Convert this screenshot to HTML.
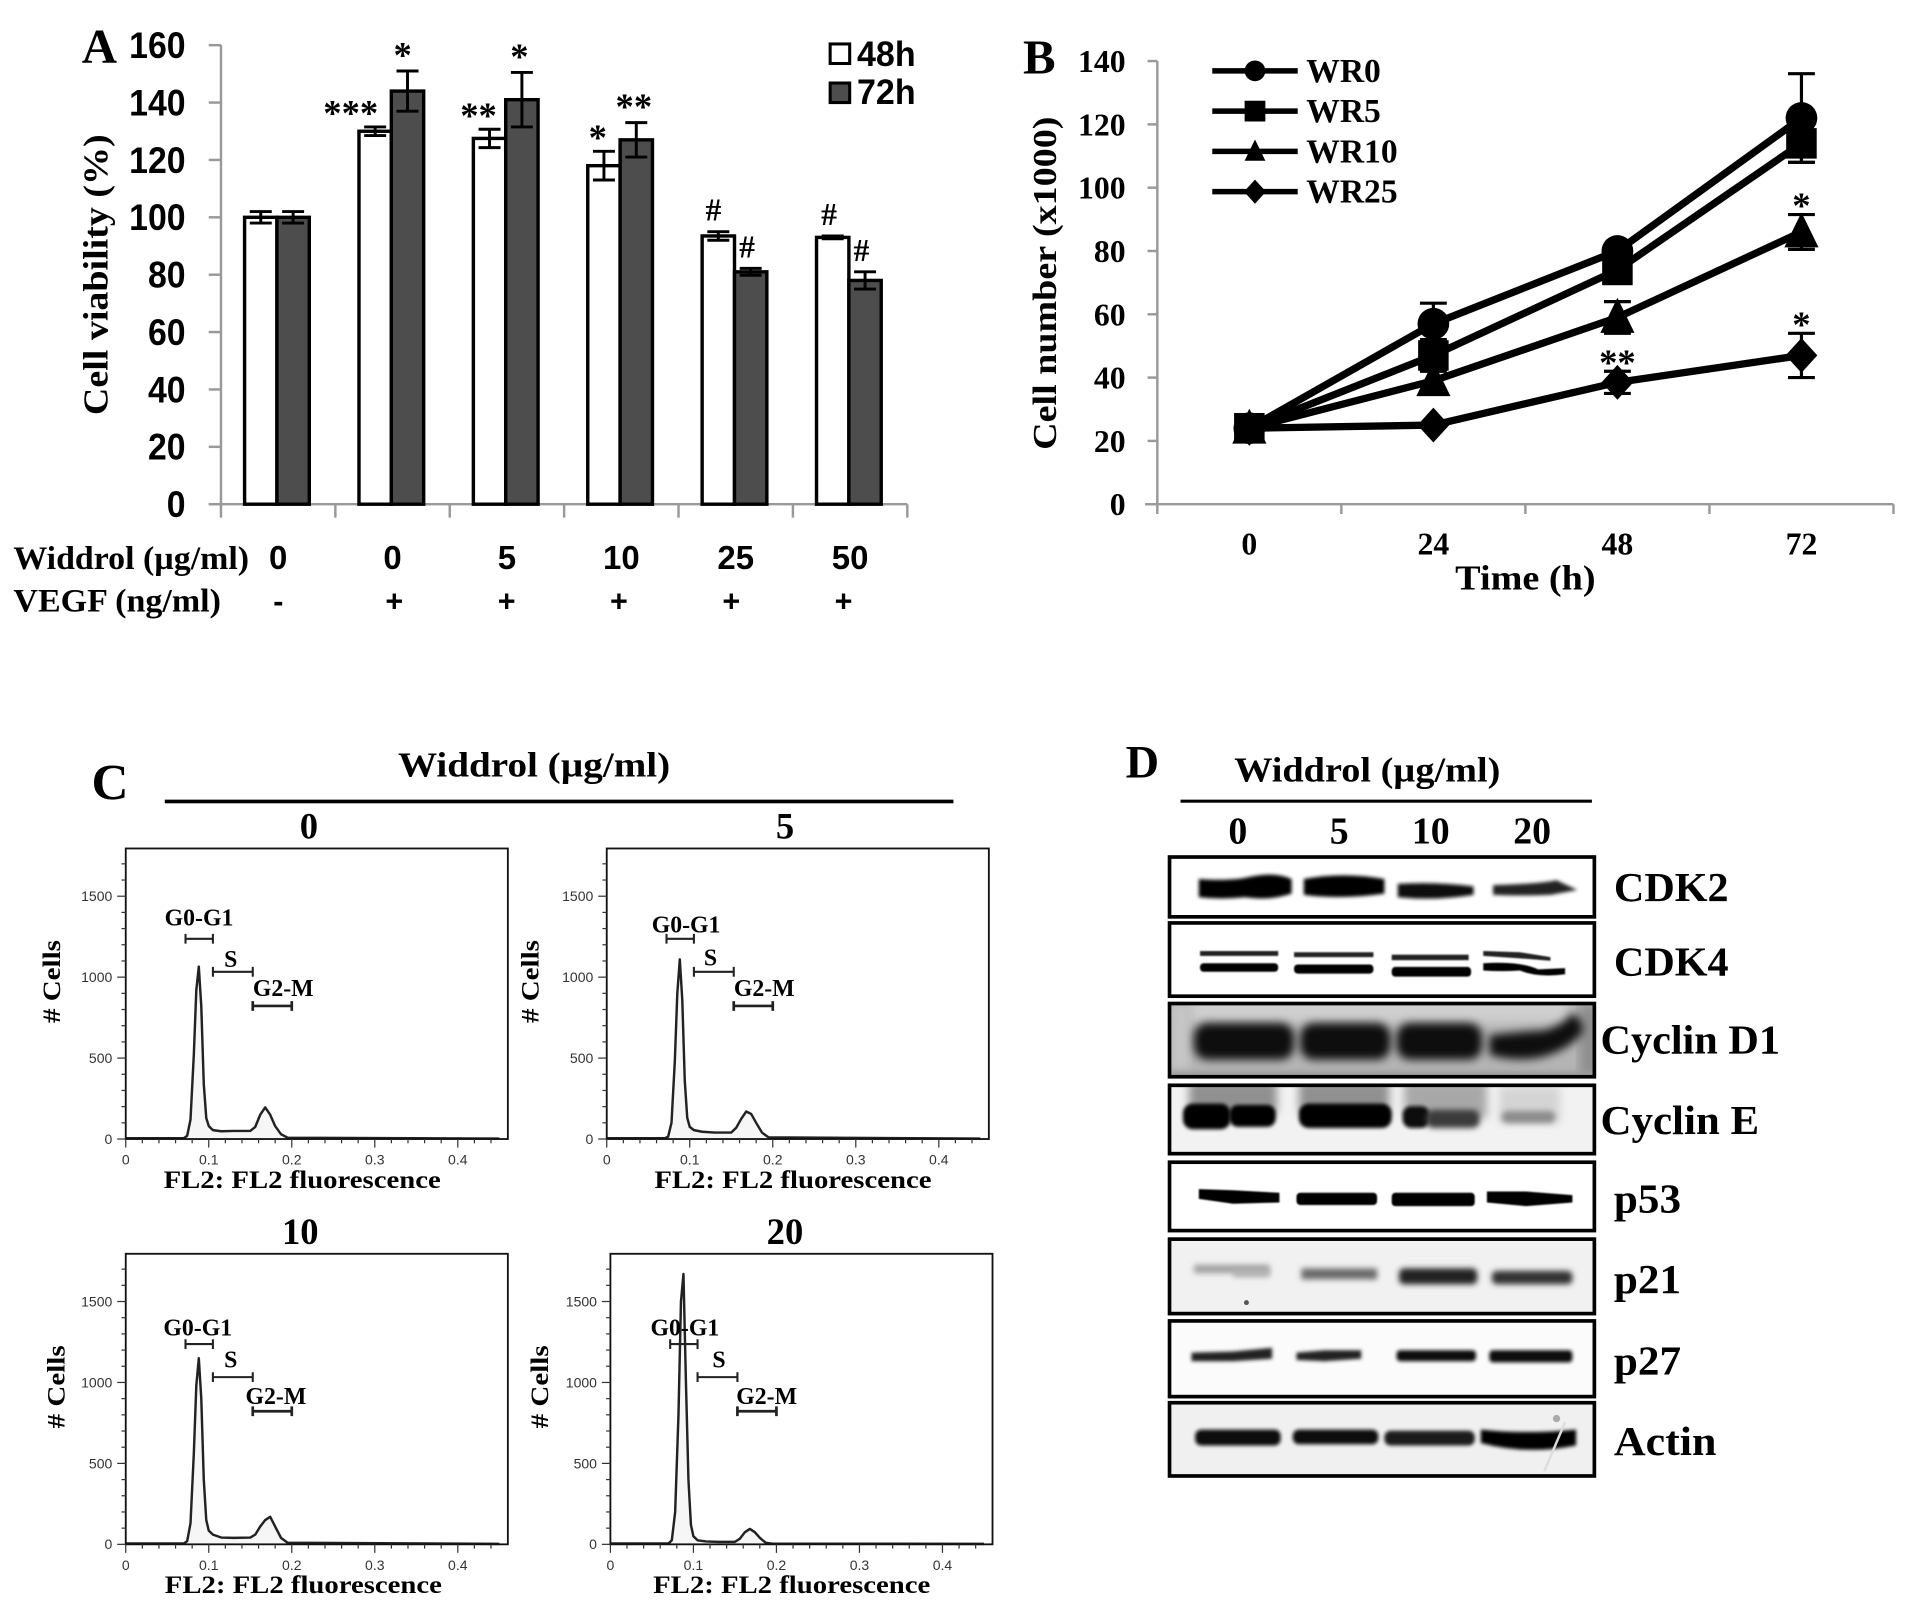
<!DOCTYPE html>
<html lang="en">
<head>
<meta charset="utf-8">
<title>Widdrol figure</title>
<style>
html,body{margin:0;padding:0;background:#fff;}
svg{display:block;}
.sb{font-family:"Liberation Sans",sans-serif;font-weight:700;fill:#000;}
.se{font-family:"Liberation Serif",serif;font-weight:700;fill:#000;}
.tk{font-family:"Liberation Sans",sans-serif;font-size:11.5px;fill:#333;}
</style>
</head>
<body>
<svg id="figure" xmlns="http://www.w3.org/2000/svg" width="1913" height="1606" viewBox="0 0 1567 1315.5">
<defs>
<filter id="b05" x="-10%" y="-100%" width="120%" height="300%"><feGaussianBlur stdDeviation="0.7"/></filter>
<filter id="b1" x="-10%" y="-200%" width="120%" height="500%"><feGaussianBlur stdDeviation="1.5"/></filter>
<filter id="b2" x="-10%" y="-200%" width="120%" height="500%"><feGaussianBlur stdDeviation="2.4"/></filter>
<filter id="b3" x="-20%" y="-100%" width="140%" height="300%"><feGaussianBlur stdDeviation="3.6"/></filter>
<filter id="b4" x="-20%" y="-200%" width="140%" height="500%"><feGaussianBlur stdDeviation="4.5"/></filter>
<clipPath id="clip-d1"><rect x="958" y="822" width="348" height="60"/></clipPath>
<clipPath id="clip-e"><rect x="958" y="889" width="348" height="56"/></clipPath>
</defs>

<g id="chart-a">
  <text class="se" x="67" y="51" font-size="40">A</text>
  <text class="se" transform="translate(88,225) rotate(-90)" text-anchor="middle" font-size="29" textLength="230" lengthAdjust="spacingAndGlyphs">Cell viability (%)</text>
  <text class="se" x="11" y="466" font-size="27" textLength="193" lengthAdjust="spacingAndGlyphs">Widdrol (µg/ml)</text>
  <text class="se" x="11" y="501" font-size="27" textLength="170" lengthAdjust="spacingAndGlyphs">VEGF (ng/ml)</text>
  <rect x="680" y="36" width="16" height="16" fill="#fff" stroke="#000" stroke-width="2.5"/>
  <text class="sb" x="702" y="54" font-size="29" textLength="48" lengthAdjust="spacingAndGlyphs">48h</text>
  <rect x="680" y="68" width="16" height="16" fill="#4d4d4d" stroke="#000" stroke-width="2.5"/>
  <text class="sb" x="702" y="85" font-size="29" textLength="48" lengthAdjust="spacingAndGlyphs">72h</text>
</g>

<g id="chart-b">
  <text class="se" x="838" y="60" font-size="40">B</text>
  <text class="se" transform="translate(865,232) rotate(-90)" text-anchor="middle" font-size="28" textLength="273" lengthAdjust="spacingAndGlyphs">Cell number (x1000)</text>
  <text class="se" x="1249.5" y="483" text-anchor="middle" font-size="29" textLength="115" lengthAdjust="spacingAndGlyphs">Time (h)</text>
</g>

<g id="chart-c">
  <text class="se" x="75" y="655" font-size="42">C</text>
  <text class="se" x="437.5" y="636" text-anchor="middle" font-size="29" textLength="223" lengthAdjust="spacingAndGlyphs">Widdrol (µg/ml)</text>
  <rect x="135" y="655" width="646" height="3" fill="#000"/>
</g>

<g id="chart-d">
  <text class="se" x="922" y="637" font-size="38">D</text>
  <text class="se" x="1120" y="640" text-anchor="middle" font-size="29" textLength="218" lengthAdjust="spacingAndGlyphs">Widdrol (µg/ml)</text>
  <rect x="967" y="655" width="337" height="2.5" fill="#000"/>
  <text class="se" x="1014" y="691" text-anchor="middle" font-size="31">0</text>
  <text class="se" x="1097" y="691" text-anchor="middle" font-size="31">5</text>
  <text class="se" x="1172" y="691" text-anchor="middle" font-size="31">10</text>
  <text class="se" x="1255" y="691" text-anchor="middle" font-size="31">20</text>

  <g>
    <rect x="958" y="702" width="348" height="49" fill="#fff"/>
    <path d="M982 720Q1010 722 1025 718Q1045 714 1058 720L1058 732Q1040 738 1020 735Q1000 737 982 735Z" fill="#000" filter="url(#b1)"/>
    <path d="M1068 720Q1100 714 1134 720L1134 732Q1100 737 1068 733Z" fill="#000" filter="url(#b1)"/>
    <path d="M1145 724Q1175 722 1207 726L1207 733Q1175 738 1145 735Z" fill="#111" filter="url(#b1)"/>
    <path d="M1223 725Q1260 724 1275 721L1292 729L1270 733Q1245 734 1223 733Z" fill="#222" filter="url(#b1)"/>
    <rect x="958" y="702" width="348" height="49" fill="none" stroke="#000" stroke-width="3"/>
  </g>
  <g>
    <rect x="958" y="756" width="348" height="60" fill="#fff"/>
    <rect x="983" y="779" width="64" height="4" fill="#222" filter="url(#b05)"/>
    <rect x="983" y="789" width="64" height="7" rx="3" fill="#000" filter="url(#b05)"/>
    <rect x="1060" y="780" width="65" height="4" fill="#222" filter="url(#b05)"/>
    <rect x="1060" y="790" width="65" height="7.5" rx="3" fill="#000" filter="url(#b05)"/>
    <rect x="1140" y="782" width="63" height="4.5" fill="#222" filter="url(#b05)"/>
    <rect x="1140" y="792" width="65" height="8" rx="3" fill="#000" filter="url(#b05)"/>
    <path d="M1215 779L1245 780L1270 784L1270 787L1245 785L1215 783Z" fill="#222" filter="url(#b05)"/>
    <path d="M1215 789Q1245 787 1260 794L1282 793L1282 798Q1260 801 1245 795Q1230 796 1215 795Z" fill="#000" filter="url(#b05)"/>
    <rect x="958" y="756" width="348" height="60" fill="none" stroke="#000" stroke-width="3"/>
  </g>
  <g>
    <g clip-path="url(#clip-d1)">
      <rect x="958" y="822" width="348" height="60" fill="#b4b4b4"/>
      <rect x="975" y="818" width="310" height="20" fill="#cfcfcf" filter="url(#b4)"/>
      <rect x="960" y="822" width="14" height="54" fill="#c8c8c8" filter="url(#b4)"/>
      <rect x="1294" y="822" width="16" height="60" fill="#8c8c8c" filter="url(#b4)"/>
      <rect x="958" y="878" width="348" height="8" fill="#999" filter="url(#b2)"/>
      <rect x="978" y="838" width="82" height="30" rx="11" fill="#000" opacity=".92" filter="url(#b3)"/>
      <rect x="1065" y="838" width="74" height="30" rx="11" fill="#000" opacity=".92" filter="url(#b3)"/>
      <rect x="1144" y="838" width="70" height="30" rx="11" fill="#000" opacity=".92" filter="url(#b3)"/>
      <path d="M1220 848Q1245 845 1265 844Q1280 840 1288 830Q1298 836 1296 846Q1285 860 1262 866Q1240 870 1220 864Z" fill="#000" opacity=".92" filter="url(#b3)"/>
    </g>
    <rect x="958" y="822" width="348" height="60" fill="none" stroke="#000" stroke-width="3"/>
  </g>
  <g>
    <g clip-path="url(#clip-e)">
      <rect x="958" y="889" width="348" height="56" fill="#f2f2f2"/>
      <rect x="974" y="886" width="72" height="26" fill="#909090" filter="url(#b3)"/>
      <rect x="1064" y="886" width="74" height="26" fill="#909090" filter="url(#b3)"/>
      <rect x="1150" y="886" width="68" height="30" fill="#a8a8a8" filter="url(#b3)"/>
      <rect x="1228" y="890" width="50" height="30" fill="#d4d4d4" filter="url(#b3)"/>
      <rect x="969" y="904" width="39" height="21" rx="8" fill="#000" filter="url(#b1)"/>
      <rect x="1007" y="905" width="38" height="18" rx="7" fill="#000" filter="url(#b1)"/>
      <rect x="1064" y="904" width="76" height="20" rx="8" fill="#000" filter="url(#b1)"/>
      <rect x="1149" y="906" width="22" height="18" rx="7" fill="#111" filter="url(#b1)"/>
      <rect x="1168" y="909" width="44" height="15" rx="6" fill="#3a3a3a" filter="url(#b2)"/>
      <rect x="1230" y="910" width="44" height="10" rx="5" fill="#8c8c8c" filter="url(#b2)"/>
    </g>
    <rect x="958" y="889" width="348" height="56" fill="none" stroke="#000" stroke-width="3"/>
  </g>
  <g>
    <rect x="958" y="952" width="348" height="56" fill="#fff"/>
    <path d="M982 974L1010 975L1048 977L1048 985L1010 986L982 982Z" fill="#000" filter="url(#b05)"/>
    <rect x="1062" y="977" width="66" height="10" rx="3" fill="#000" filter="url(#b05)"/>
    <rect x="1140" y="977" width="68" height="11" rx="3" fill="#000" filter="url(#b05)"/>
    <path d="M1218 976L1250 976L1288 979L1288 985L1250 988L1218 985Z" fill="#000" filter="url(#b05)"/>
    <rect x="958" y="952" width="348" height="56" fill="none" stroke="#000" stroke-width="3"/>
  </g>
  <g>
    <rect x="958" y="1015" width="348" height="61" fill="#f1f1f1"/>
    <rect x="978" y="1036" width="62" height="7" fill="#a0a0a0" filter="url(#b2)"/>
    <rect x="1010" y="1040" width="30" height="6" fill="#b0b0b0" filter="url(#b2)"/>
    <rect x="1066" y="1039" width="62" height="9" fill="#6a6a6a" filter="url(#b2)"/>
    <rect x="1146" y="1039" width="64" height="13" rx="4" fill="#222" filter="url(#b2)"/>
    <rect x="1222" y="1041" width="66" height="11" rx="4" fill="#333" filter="url(#b2)"/>
    <circle cx="1021" cy="1067" r="2" fill="#555"/>
    <rect x="958" y="1015" width="348" height="61" fill="none" stroke="#000" stroke-width="3"/>
  </g>
  <g>
    <rect x="958" y="1082" width="348" height="62" fill="#fbfbfb"/>
    <path d="M976 1108L1010 1107L1042 1104L1042 1113L1010 1115L976 1115Z" fill="#222" filter="url(#b1)"/>
    <path d="M1062 1108L1085 1106L1115 1106L1115 1113L1085 1115L1062 1114Z" fill="#222" filter="url(#b1)"/>
    <rect x="1144" y="1106" width="65" height="9" rx="3" fill="#111" filter="url(#b1)"/>
    <rect x="1220" y="1106" width="68" height="10" rx="3" fill="#111" filter="url(#b1)"/>
    <rect x="958" y="1082" width="348" height="62" fill="none" stroke="#000" stroke-width="3"/>
  </g>
  <g>
    <rect x="958" y="1149" width="348" height="60" fill="#f0f0f0"/>
    <rect x="979" y="1171" width="70" height="13" rx="5" fill="#111" filter="url(#b1)"/>
    <rect x="1059" y="1171" width="70" height="12" rx="5" fill="#111" filter="url(#b1)"/>
    <rect x="1134" y="1172" width="74" height="12" rx="5" fill="#1a1a1a" filter="url(#b1)"/>
    <path d="M1213 1171Q1250 1175 1291 1171L1291 1184Q1250 1192 1213 1182Z" fill="#000" filter="url(#b1)"/>
    <circle cx="1275" cy="1162" r="3" fill="#aaa"/>
    <line x1="1282" y1="1165" x2="1265" y2="1205" stroke="#ddd" stroke-width="2"/>
    <rect x="958" y="1149" width="348" height="60" fill="none" stroke="#000" stroke-width="3"/>
  </g>
  <text class="se" x="1322" y="738" font-size="34" textLength="94" lengthAdjust="spacingAndGlyphs">CDK2</text>
  <text class="se" x="1322" y="799" font-size="34" textLength="94" lengthAdjust="spacingAndGlyphs">CDK4</text>
  <text class="se" x="1311" y="863" font-size="34" textLength="147" lengthAdjust="spacingAndGlyphs">Cyclin D1</text>
  <text class="se" x="1311" y="929" font-size="34" textLength="130" lengthAdjust="spacingAndGlyphs">Cyclin E</text>
  <text class="se" x="1322" y="993" font-size="34" textLength="55" lengthAdjust="spacingAndGlyphs">p53</text>
  <text class="se" x="1322" y="1059" font-size="34" textLength="55" lengthAdjust="spacingAndGlyphs">p21</text>
  <text class="se" x="1322" y="1126" font-size="34" textLength="55" lengthAdjust="spacingAndGlyphs">p27</text>
  <text class="se" x="1322" y="1192" font-size="34" textLength="84" lengthAdjust="spacingAndGlyphs">Actin</text>
</g>
</svg>

<script>
// ---------- Chart A data ----------
const viabilityTicks = [0, 20, 40, 60, 80, 100, 120, 140, 160];
const widdrolDoses = ['0', '0', '5', '10', '25', '50'];
const vegfFlags = ['-', '+', '+', '+', '+', '+'];
const viability48h = [100, 130, 127.5, 118, 93.5, 93];
const viability72h = [100, 144, 141, 127, 81, 78];
const error48h = [2, 1.5, 3.2, 5, 1.5, 0.5];
const error72h = [2, 7, 9.5, 6, 1.2, 3];
const marks48h = ['', '***', '**', '*', '#', '#'];
const marks72h = ['', '*', '*', '**', '#', '#'];

// ---------- Chart B data ----------
const timeLabels = ['0', '24', '48', '72'];
const cellTicks = [0, 20, 40, 60, 80, 100, 120, 140];
const seriesNames = ['WR0', 'WR5', 'WR10', 'WR25'];
const wr0 = [24, 57, 80, 122];
const wr5 = [24, 47, 74, 114];
const wr10 = [24, 39, 59, 86];
const wr25 = [24, 25, 38.5, 47];
const wr0Err = [0, 6.5, 1, 14];
const wr5Err = [0, 5, 4, 6];
const wr10Err = [0, 3.5, 5, 5.5];
const wr25Err = [0, 0, 3.5, 7];
const wr10Marks = ['', '', '', '*'];
const wr25Marks = ['', '', '**', '*'];

// ---------- Chart C data ----------
const fluorescence = [0, 0.07, 0.074, 0.078, 0.082, 0.085, 0.088, 0.091, 0.094, 0.097, 0.1, 0.105, 0.115, 0.13, 0.15, 0.156, 0.162, 0.168, 0.174, 0.18, 0.187, 0.195, 0.45];
const counts0 = [5, 5, 20, 120, 520, 920, 1065, 820, 340, 130, 80, 55, 48, 50, 50, 75, 150, 195, 150, 80, 30, 8, 3];
const counts5 = [5, 5, 15, 100, 480, 900, 1110, 860, 360, 130, 75, 55, 45, 40, 40, 70, 125, 170, 155, 100, 40, 10, 3];
const counts10 = [5, 5, 20, 130, 560, 980, 1150, 900, 400, 150, 85, 60, 42, 40, 42, 60, 110, 150, 170, 110, 40, 10, 3];
const counts20 = [5, 5, 25, 200, 800, 1500, 1670, 1000, 400, 120, 50, 25, 18, 15, 15, 35, 75, 95, 75, 40, 10, 4, 3];
const countTicks = [0, 500, 1000, 1500];
const fluorTicks = [0, 0.1, 0.2, 0.3, 0.4];
const gateStarts = [0.072, 0.105, 0.153];
const gateEnds = [0.105, 0.153, 0.2];
const gateLevels = [1237, 1033, 822];
const gateNames = ['G0-G1', 'S', 'G2-M'];

// ---------- helpers ----------
const NS = 'http://www.w3.org/2000/svg';
function el(parent, tag, attrs) {
  const e = document.createElementNS(NS, tag);
  for (const k in attrs) e.setAttribute(k, attrs[k]);
  parent.appendChild(e);
  return e;
}
function txt(parent, str, attrs) {
  const t = el(parent, 'text', attrs);
  t.textContent = str;
  return t;
}

// ---------- Chart A ----------
(function () {
  const g = document.getElementById('chart-a');
  const x0 = 181, groupW = 93.7, y0 = 413, yTop = 37, yMax = 160, barW = 26.5;
  const yA = v => y0 - (v / yMax) * (y0 - yTop);
  const xA = i => x0 + groupW * i + groupW / 2;

  const yAxis = el(g, 'line', { x1: x0, y1: yA(yMax), x2: x0, y2: y0, stroke: '#999', 'stroke-width': 2 });
  
  
  const xAxis = el(g, 'line', { x1: x0 - 10, y1: y0, x2: x0 + groupW * widdrolDoses.length, y2: y0, stroke: '#999', 'stroke-width': 2 });
  
  

  viabilityTicks.forEach(v => {
    const tick = el(g, 'line', { x1: x0 - 10, y1: yA(v), x2: x0, y2: yA(v), stroke: '#999', 'stroke-width': 2 });
    
    
    const lab = txt(g, String(v), { class: 'sb', x: 152, y: yA(v) + 10.5, 'text-anchor': 'end', 'font-size': 30, textLength: String(v).length * 15.4, lengthAdjust: 'spacingAndGlyphs' });
    
    
  });
  for (let i = 0; i <= widdrolDoses.length; i++) {
    const tick = el(g, 'line', { x1: x0 + groupW * i, y1: y0, x2: x0 + groupW * i, y2: y0 + 11, stroke: '#999', 'stroke-width': 2 });
    
    
  }

  function series(vals, errs, marks, offset, fill, key, markDx, starDy) {
    vals.forEach((v, i) => {
      const left = xA(i) + offset;
      const bar = el(g, 'rect', { x: left, y: yA(v), width: barW, height: y0 - yA(v), fill: fill, stroke: '#000', 'stroke-width': 2.8 });
      
      
      const cx = left + barW / 2;
      const err = el(g, 'path', {
        d: 'M' + (cx - 9) + ' ' + yA(v + errs[i]) + 'H' + (cx + 9) + 'M' + cx + ' ' + yA(v + errs[i]) + 'V' + yA(v - errs[i]) + 'M' + (cx - 9) + ' ' + yA(v - errs[i]) + 'H' + (cx + 9),
        fill: 'none', stroke: '#000', 'stroke-width': 2.4
      });
      
      
      if (marks[i]) {
        const isHash = marks[i] === '#';
        const m = txt(g, marks[i], {
          class: 'se', x: cx + markDx[i], y: yA(v + errs[i]) + (isHash ? -9 : starDy),
          'text-anchor': 'middle', 'font-size': isHash ? 26 : 30
        });
        
        
      }
    });
  }
  series(viability48h, error48h, marks48h, -27.5, '#fff', '48h', [0, -20, -9, -5, -4, -3], -1);
  series(viability72h, error72h, marks72h, -1, '#4d4d4d', '72h', [0, -4, -2, -2, -3, -3], -3);

  widdrolDoses.forEach((d, i) => {
    const lab = txt(g, d, { class: 'sb', x: xA(i), y: 466, 'text-anchor': 'middle', 'font-size': 27 });
    
    
    const sign = txt(g, vegfFlags[i], { class: 'sb', x: i === 0 ? 228 : 323 + 92 * (i - 1), y: 501, 'text-anchor': 'middle', 'font-size': 25 });
    
    
  });
})();

// ---------- Chart B ----------
(function () {
  const g = document.getElementById('chart-b');
  const x0 = 948, catW = 150.75, y0 = 413, yTop = 50, yMax = 140;
  const yB = v => y0 - (v / yMax) * (y0 - yTop);
  const xB = i => x0 + catW * i + catW / 2;

  const yAxis = el(g, 'line', { x1: x0, y1: yTop, x2: x0, y2: y0, stroke: '#999', 'stroke-width': 2 });
  
  
  const xAxis = el(g, 'line', { x1: x0 - 10, y1: y0, x2: x0 + catW * timeLabels.length, y2: y0, stroke: '#999', 'stroke-width': 2 });
  
  
  cellTicks.forEach(v => {
    const tick = el(g, 'line', { x1: x0 - 8, y1: yB(v), x2: x0, y2: yB(v), stroke: '#999', 'stroke-width': 2 });
    
    
    const lab = txt(g, String(v), { class: 'se', x: 922, y: yB(v) + 9, 'text-anchor': 'end', 'font-size': 26 });
    
    
  });
  for (let i = 0; i <= timeLabels.length; i++) {
    const tick = el(g, 'line', { x1: x0 + catW * i, y1: y0, x2: x0 + catW * i, y2: y0 + 8, stroke: '#999', 'stroke-width': 2 });
    
    
  }
  timeLabels.forEach((t, i) => {
    const lab = txt(g, t, { class: 'se', x: xB(i), y: 454, 'text-anchor': 'middle', 'font-size': 26 });
    
    
  });

  function marker(parent, kind, cx, cy, s) {
    if (kind === 'circle') return el(parent, 'circle', { cx: cx, cy: cy, r: s, fill: '#000' });
    if (kind === 'square') return el(parent, 'rect', { x: cx - s, y: cy - s, width: s * 2, height: s * 2, fill: '#000' });
    if (kind === 'triangle') return el(parent, 'path', { d: 'M' + cx + ' ' + (cy - s * 1.15) + 'L' + (cx + s) + ' ' + (cy + s * 0.9) + 'L' + (cx - s) + ' ' + (cy + s * 0.9) + 'Z', fill: '#000' });
    return el(parent, 'path', { d: 'M' + cx + ' ' + (cy - s * 1.1) + 'L' + (cx + s) + ' ' + cy + 'L' + cx + ' ' + (cy + s * 1.1) + 'L' + (cx - s) + ' ' + cy + 'Z', fill: '#000' });
  }
  function series(vals, errs, kind, key, size, marks) {
    const s = el(g, 'g', {});
    
    
    vals.forEach((v, i) => {
      if (errs[i] > 0) {
        const cx = xB(i);
        const err = el(s, 'path', {
          d: 'M' + (cx - 11) + ' ' + yB(v + errs[i]) + 'H' + (cx + 11) + 'M' + cx + ' ' + yB(v + errs[i]) + 'V' + yB(v - errs[i]) + 'M' + (cx - 11) + ' ' + yB(v - errs[i]) + 'H' + (cx + 11),
          fill: 'none', stroke: '#000', 'stroke-width': 2.6
        });
        
        
      }
    });
    const line = el(s, 'polyline', { points: vals.map((v, i) => xB(i) + ',' + yB(v)).join(' '), fill: 'none', stroke: '#000', 'stroke-width': 6, 'stroke-linejoin': 'round' });
    
    
    vals.forEach((v, i) => {
      const m = marker(s, kind, xB(i), yB(v), size);
      
      
      if (marks && marks[i]) {
        const a = txt(s, marks[i], { class: 'se', x: xB(i), y: yB(v + errs[i]) + 3, 'text-anchor': 'middle', 'font-size': 30 });
        
        
      }
    });
  }
  series(wr25, wr25Err, 'diamond', 'wr25', 13, wr25Marks);
  series(wr10, wr10Err, 'triangle', 'wr10', 14, wr10Marks);
  series(wr0, wr0Err, 'circle', 'wr0', 13, null);
  series(wr5, wr5Err, 'square', 'wr5', 12.5, null);

  const kinds = ['circle', 'square', 'triangle', 'diamond'];
  seriesNames.forEach((n, i) => {
    const ly = 58 + 33 * i;
    const entry = el(g, 'g', {});
    
    
    el(entry, 'line', { x1: 993, y1: ly, x2: 1063, y2: ly, stroke: '#000', 'stroke-width': 4.5 });
    marker(entry, kinds[i], 1028, ly, i === 3 ? 9 : 8.5);
    txt(entry, n, { class: 'se', x: 1070, y: ly + 9, 'font-size': 27.5 });
  });
})();

// ---------- Chart C ----------
function drawHistogram(key, left, top, title, titleX, counts, yTitleX, labelPlacement, fl2Left) {
  const root = document.getElementById('chart-c');
  const g = el(root, 'g', {});
  
  
  const w = 313, h = 238, base = top + h;
  const xH = f => left + f * 680;
  const yH = c => base - c * 0.1326;

  const area = el(g, 'path', {
    d: 'M' + fluorescence.map((f, i) => xH(f) + ' ' + yH(counts[i])).join('L') + 'L' + xH(0.45) + ' ' + base + 'L' + left + ' ' + base + 'Z',
    fill: '#f6f6f6', stroke: 'none'
  });
  
  
  const line = el(g, 'polyline', {
    points: fluorescence.map((f, i) => xH(f) + ',' + yH(counts[i])).join(' '),
    fill: 'none', stroke: '#222', 'stroke-width': 2, 'stroke-linejoin': 'round'
  });
  
  
  const frame = el(g, 'rect', { x: left, y: top, width: w, height: h, fill: 'none', stroke: '#111', 'stroke-width': 1.5 });
  
  

  const ticks = el(g, 'g', { stroke: '#333', fill: 'none', 'stroke-width': 1 });
  
  
  for (let c = 0; c <= 1700; c += 100) {
    const major = c % 500 === 0;
    el(ticks, 'line', { x1: left - (major ? 7 : 3.5), y1: yH(c), x2: left, y2: yH(c) });
  }
  for (let k = 0; k <= 22; k++) {
    const major = k % 5 === 0;
    el(ticks, 'line', { x1: xH(k * 0.02), y1: base, x2: xH(k * 0.02), y2: base + (major ? 7 : 3.5) });
  }
  countTicks.forEach(c => {
    const lab = txt(g, String(c), { class: 'tk', x: left - 11, y: yH(c) + 4, 'text-anchor': 'end' });
    
    
  });
  fluorTicks.forEach(f => {
    const lab = txt(g, String(f), { class: 'tk', x: xH(f), y: base + 21, 'text-anchor': 'middle' });
    
    
  });

  gateNames.forEach((n, i) => {
    const y = yH(gateLevels[i]);
    const gate = el(g, 'path', {
      d: 'M' + xH(gateStarts[i]) + ' ' + (y - 4) + 'V' + (y + 4) + 'M' + xH(gateStarts[i]) + ' ' + y + 'H' + xH(gateEnds[i]) + 'M' + xH(gateEnds[i]) + ' ' + (y - 4) + 'V' + (y + 4),
      fill: 'none', stroke: '#222', 'stroke-width': i === 2 ? 2.2 : 1.7
    });
    
    
    const p = labelPlacement[i];
    const lab = txt(g, n, { class: 'se', x: p[0], y: p[1], 'text-anchor': 'middle', 'font-size': 19.5 });
    
    
  });

  const head = txt(g, title, { class: 'se', x: titleX, y: top - 8, 'text-anchor': 'middle', 'font-size': 30 });
  
  
  const yt = txt(g, '# Cells', { class: 'se', transform: 'translate(' + yTitleX + ',' + (top + 109) + ') rotate(-90)', 'text-anchor': 'middle', 'font-size': 21, textLength: 68, lengthAdjust: 'spacingAndGlyphs' });
  
  
  const xt = txt(g, 'FL2: FL2 fluorescence', { class: 'se', x: fl2Left, y: base + 40, 'font-size': 21, textLength: 227, lengthAdjust: 'spacingAndGlyphs' });
  
  
}
drawHistogram('0', 103, 695, '0', 253, counts0, 49, [[163, 758], [189, 792], [232, 816]], 134);
drawHistogram('5', 497, 695, '5', 643, counts5, 441, [[562, 764], [582, 791], [626, 816]], 536);
drawHistogram('10', 103, 1027, '10', 246, counts10, 53, [[162, 1094], [189, 1120], [226, 1150]], 135);
drawHistogram('20', 500, 1027, '20', 643, counts20, 449, [[561, 1094], [589, 1120], [628, 1150]], 535);
</script>
</body>
</html>
